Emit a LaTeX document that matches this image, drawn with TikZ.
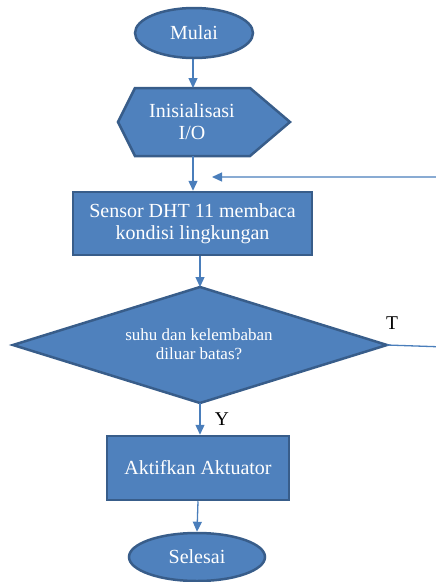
\documentclass[tikz,border=0pt]{standalone}
\usepackage{fontspec}
\setmainfont{Liberation Serif}
\usetikzlibrary{shapes.geometric,arrows.meta}
\definecolor{boxfill}{HTML}{4F81BD}
\definecolor{boxline}{HTML}{385D8A}
\definecolor{arrowc}{HTML}{4A7EBB}
\begin{document}
\begin{tikzpicture}[x=1pt,y=-1pt,
  shp/.style={fill=boxfill,draw=boxline,line width=2.5pt},
  txt/.style={text=white,font=\fontsize{20}{22}\selectfont,align=center},
  term/.style={shp,txt,ellipse,inner sep=0pt},
  proc/.style={shp,txt,rectangle,inner sep=0pt},
  conn/.style={draw=arrowc,line width=1.3pt,-{Triangle[length=10pt,width=9pt]}},
  lbl/.style={font=\fontsize{19.5}{22}\selectfont,text=black}]
\useasboundingbox (0,0) rectangle (436,582);
% Mulai
\node[term,minimum width=118,minimum height=50] (mulai) at (194,33) {Mulai};
% Hexagon
\coordinate (hL) at (118,122); \coordinate (hTL) at (135,88); \coordinate (hTR) at (250,88);
\coordinate (hR) at (290,122); \coordinate (hBR) at (250,156); \coordinate (hBL) at (135,156);
\draw[shp] (hL) -- (hTL) -- (hTR) -- (hR) -- (hBR) -- (hBL) -- cycle;
\node[txt,inner sep=0pt] (init) at (192,122) {Inisialisasi\\I/O};
\coordinate (initT) at (193,88); \coordinate (initB) at (193,156);
% Sensor
\node[proc,minimum width=239,minimum height=63] (sensor) at (192.5,223.5) {Sensor DHT 11 membaca\\kondisi lingkungan};
% Diamond
\coordinate (dT) at (200,287); \coordinate (dR) at (387,345); \coordinate (dB) at (200,403); \coordinate (dL) at (13,345);
\draw[shp] (dT) -- (dR) -- (dB) -- (dL) -- cycle;
\node[txt,font=\fontsize{17}{18.5}\selectfont,inner sep=0pt] (dec) at (199,344) {suhu dan kelembaban\\diluar batas?};
% Aktuator
\node[proc,minimum width=182,minimum height=64] (akt) at (198,468) {Aktifkan Aktuator};
% Selesai
\node[term,minimum width=136,minimum height=48] (selesai) at (197,557) {Selesai};
% connectors
\draw[conn] (mulai.south -| initT) -- (initT);
\draw[conn] (initB) -- (initB |- sensor.north);
\draw[conn] (sensor.south -| dT) -- (dT);
\draw[conn] (dB) -- (dB |- akt.north);
\draw[conn] (akt.south) -- (selesai.north);
\coordinate (fb1) at (445,347); \coordinate (fb2) at (445,177); \coordinate (fbEnd) at (212,177);
\draw[conn] (dR) -- (fb1) -- (fb2) -- (fbEnd);
% labels
\node[lbl] (tlab) at (392,323) {T};
\node[lbl] (ylab) at (222,419) {Y};
\end{tikzpicture}
\end{document}
